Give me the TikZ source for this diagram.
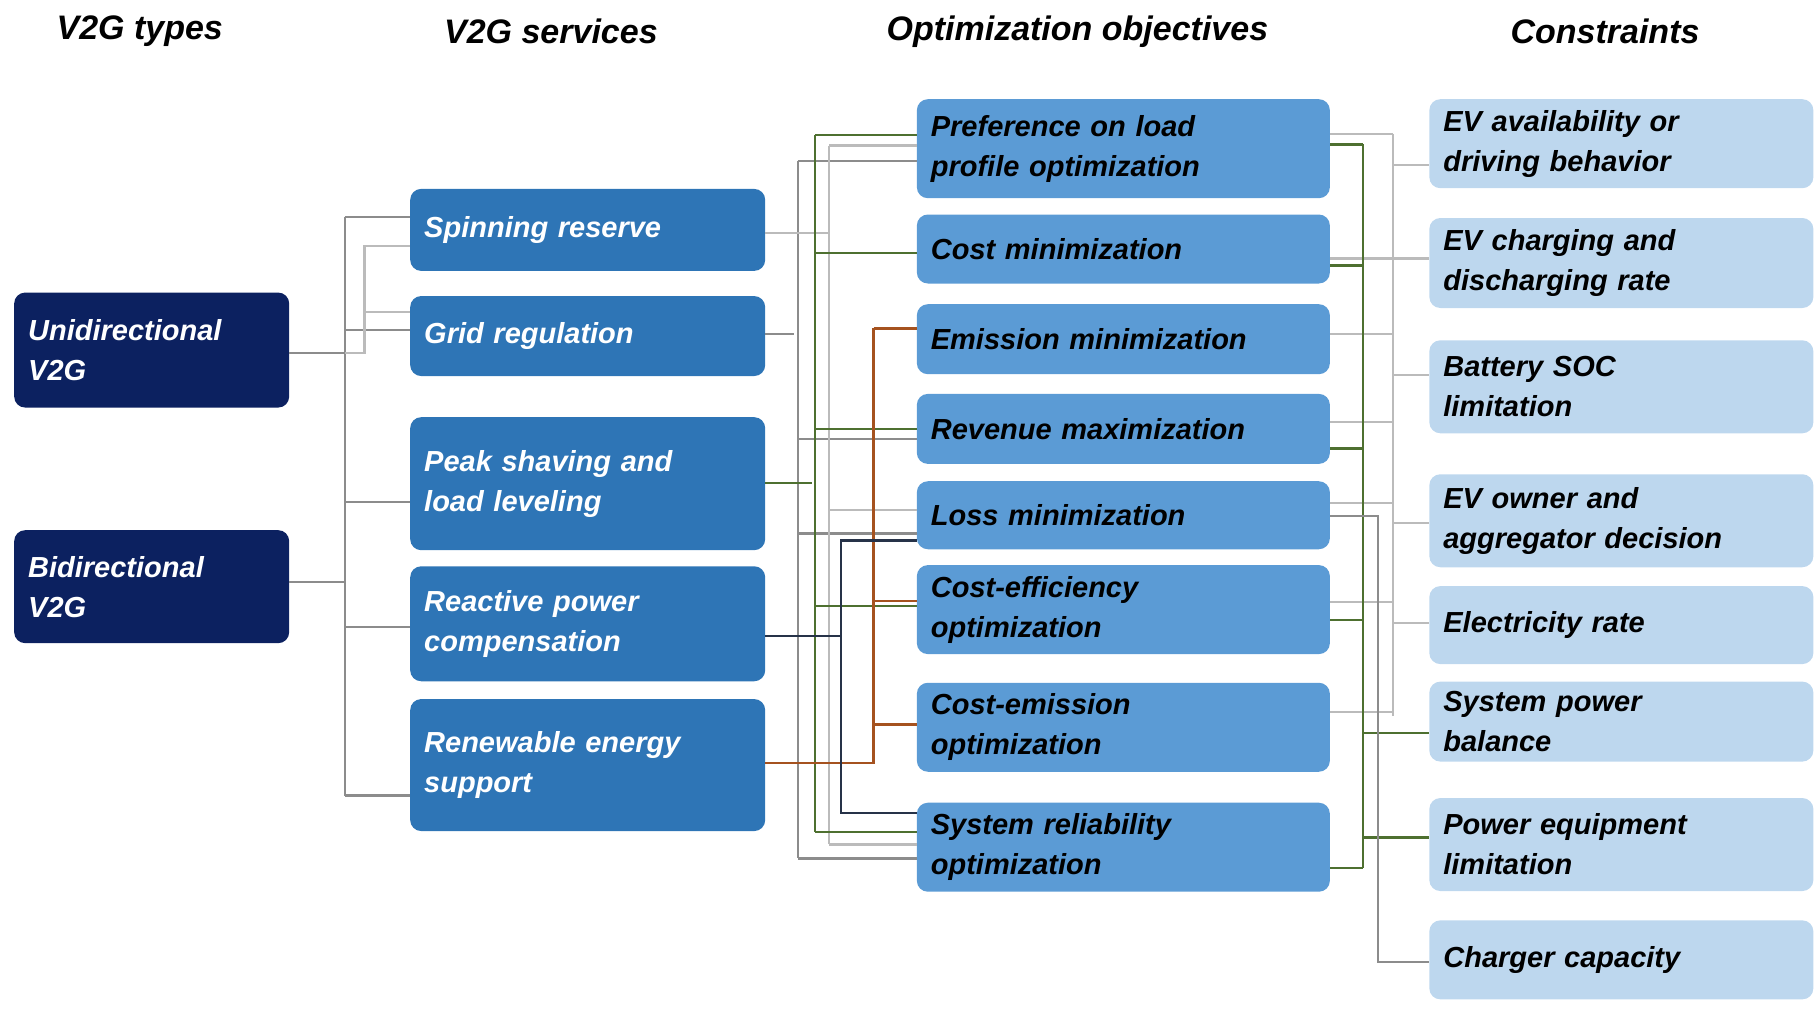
\documentclass[tikz,border=0pt]{standalone}
\usepackage{fontspec}
\setmainfont{Liberation Sans}
\begin{document}
\begin{tikzpicture}[x=1.1647pt,y=-1.1647pt,
 box/.style={anchor=north west,rounded corners=11pt,inner xsep=14pt,inner ysep=4pt,align=left,
   font=\fontsize{29}{40}\selectfont\bfseries\itshape},
 t1/.style={box,fill=c1,text=white,minimum width=275pt,text width=247pt},
 t2/.style={box,fill=c2,text=white,minimum width=355pt,text width=327pt},
 t3/.style={box,fill=c3,text=black,minimum width=413pt,text width=385pt},
 t4/.style={box,fill=c4,text=black,minimum width=384pt,text width=356pt},
 hd/.style={font=\fontsize{34}{40}\selectfont\bfseries\itshape},
 dg/.style={draw=lgd,line width=2.2pt},
 lg/.style={draw=lgl,line width=2.2pt},
 gr/.style={draw=lgr,line width=2.2pt},
 br/.style={draw=lbr,line width=2.2pt},
 nv/.style={draw=lnv,line width=2.2pt}]
\definecolor{c1}{HTML}{0C2160}
\definecolor{c2}{HTML}{2E75B6}
\definecolor{c3}{HTML}{5B9BD5}
\definecolor{c4}{HTML}{BDD7EE}
\definecolor{lgd}{HTML}{8C8C8C}
\definecolor{lgl}{HTML}{BBBBBB}
\definecolor{lgr}{HTML}{4E7030}
\definecolor{lbr}{HTML}{A5521F}
\definecolor{lnv}{HTML}{263248}
\useasboundingbox (0,0) rectangle (1560,868);
\node[hd] (h1) at (120,27) {V2G types};
\node[hd] (h2) at (473,27) {V2G services};
\node[hd] (h3) at (925,27) {Optimization objectives};
\node[hd] (h4) at (1378,27) {Constraints};
% column 1
\node[t1,minimum height=115pt] (uni) at (12,251) {Unidirectional\\V2G};
\node[t1,minimum height=113pt] (bi) at (12,455) {Bidirectional\\V2G};
% column 2
\node[t2,minimum height=82pt] (spin) at (352,162) {Spinning reserve};
\node[t2,minimum height=80pt] (grid) at (352,254) {Grid regulation};
\node[t2,minimum height=133pt] (peak) at (352,358) {Peak shaving and\\load leveling};
\node[t2,minimum height=115pt] (reac) at (352,486) {Reactive power\\compensation};
\node[t2,minimum height=132pt] (renew) at (352,600) {Renewable energy\\support};
% column 3
\node[t3,minimum height=99pt] (pref) at (787,85) {Preference on load\\profile optimization};
\node[t3,minimum height=69pt] (cmin) at (787,184) {Cost minimization};
\node[t3,minimum height=70pt] (emis) at (787,261) {Emission minimization};
\node[t3,minimum height=70pt] (rev) at (787,338) {Revenue maximization};
\node[t3,minimum height=68pt] (loss) at (787,413) {Loss minimization};
\node[t3,minimum height=89pt] (ceff) at (787,485) {Cost-efficiency\\optimization};
\node[t3,minimum height=89pt] (cem) at (787,586) {Cost-emission\\optimization};
\node[t3,minimum height=89pt] (rel) at (787,689) {System reliability\\optimization};
% column 4
\node[t4,minimum height=89pt] (ev) at (1227,85) {EV availability or\\driving behavior};
\node[t4,minimum height=90pt] (evc) at (1227,187) {EV charging and\\discharging rate};
\node[t4,minimum height=93pt] (soc) at (1227,292) {Battery SOC\\limitation};
\node[t4,minimum height=93pt] (own) at (1227,407) {EV owner and\\aggregator decision};
\node[t4,minimum height=78pt] (elec) at (1227,503) {Electricity rate};
\node[t4,minimum height=80pt] (spb) at (1227,585) {System power\\balance};
\node[t4,minimum height=93pt] (peq) at (1227,685) {Power equipment\\limitation};
\node[t4,minimum height=79pt] (chg) at (1227,790) {Charger capacity};
% ---- left connectors
\coordinate (b1t) at (296,186); \coordinate (b1b) at (296,683);
\draw[dg] (b1t) -- (b1b);
\draw[dg] (uni.east |- 0,303) -- (296,303);
\draw[dg] (bi.east |- 0,500) -- (296,500);
\draw[dg] (296,186) -- (spin.west |- 0,186);
\draw[dg] (296,283) -- (grid.west |- 0,283);
\draw[dg] (296,431) -- (peak.west |- 0,431);
\draw[dg] (296,538) -- (reac.west |- 0,538);
\draw[dg] (296,683) -- (renew.west |- 0,683);
\draw[lg] (296,303) -- (313,303) -- (313,211) -- (spin.west |- 0,211);
\draw[lg] (313,268) -- (grid.west |- 0,268);
% ---- middle connectors
\draw[dg] (685,138) -- (685,737);
\draw[dg] (grid.east |- 0,287) -- (682,287);
\foreach \n/\y in {pref/138,rev/377,loss/458,rel/737} \draw[dg] (685,\y) -- (\n.west |- 0,\y);
\draw[lg] (712,125) -- (712,725);
\draw[lg] (spin.east |- 0,200) -- (712,200);
\foreach \n/\y in {pref/125,loss/438,rel/725} \draw[lg] (712,\y) -- (\n.west |- 0,\y);
\draw[gr] (700,116) -- (700,714);
\draw[gr] (peak.east |- 0,415) -- (697,415);
\foreach \n/\y in {pref/116,cmin/217,rev/368,ceff/520,rel/714} \draw[gr] (700,\y) -- (\n.west |- 0,\y);
\draw[br] (renew.east |- 0,655) -- (750,655) -- (750,282);
\foreach \n/\y in {emis/282,ceff/516,cem/622} \draw[br] (750,\y) -- (\n.west |- 0,\y);
\draw[nv] (reac.east |- 0,546) -- (722,546);
\draw[nv] (loss.west |- 0,464) -- (722,464) -- (722,698) -- (rel.west |- 0,698);
% ---- right connectors
\draw[lg] (1196,115) -- (1196,615);
\foreach \n/\y in {pref/115,cmin/222,emis/287,rev/362,loss/432,ceff/517,cem/611} \draw[lg] (\n.east |- 0,\y) -- (1196,\y);
\foreach \n/\y in {ev/142,evc/222,soc/322,own/449,elec/535} \draw[lg] (1196,\y) -- (\n.west |- 0,\y);
\draw[gr] (1170,124) -- (1170,745);
\foreach \n/\y in {pref/124,cmin/228,rev/385,ceff/532,rel/745} \draw[gr] (\n.east |- 0,\y) -- (1170,\y);
\foreach \n/\y in {spb/629,peq/719} \draw[gr] (1170,\y) -- (\n.west |- 0,\y);
\draw[dg] (loss.east |- 0,443) -- (1183,443) -- (1183,826) -- (chg.west |- 0,826);
\end{tikzpicture}
\end{document}
